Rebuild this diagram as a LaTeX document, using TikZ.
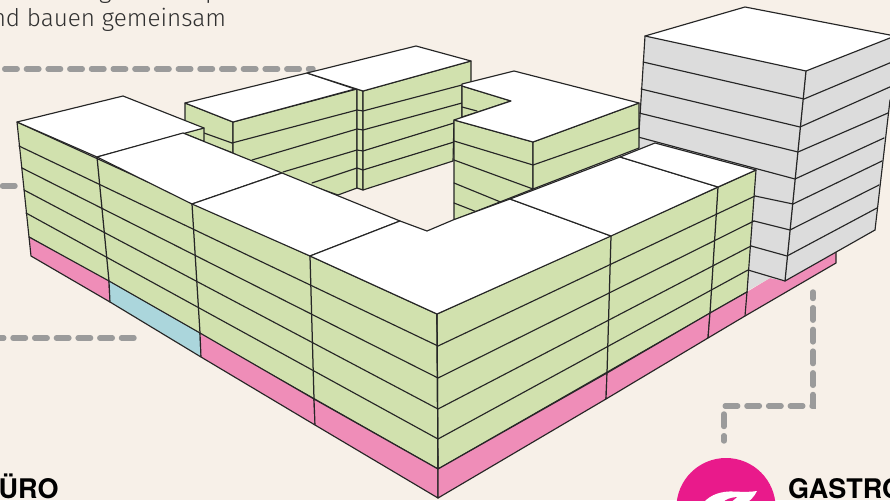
\documentclass[tikz,border=0pt]{standalone}
\usepackage{fontspec}
\setmainfont[UprightFont=* Light,BoldFont=* Bold]{Fira Sans}
\newfontfamily\headfont{TeX Gyre Heros}
\definecolor{bgc}{HTML}{F7F0E8}
\definecolor{greenc}{HTML}{D1E1AE}
\definecolor{pinkc}{HTML}{EF8DB8}
\definecolor{bluec}{HTML}{ABD6DC}
\definecolor{greyc}{HTML}{DCDCDC}
\definecolor{dashc}{HTML}{9B9B9B}
\definecolor{magc}{HTML}{E91A8B}
\definecolor{linec}{HTML}{262626}
\definecolor{textc}{HTML}{303030}
\tikzset{
  x=1pt,y=-1pt,
  edge/.style={draw=linec,line width=1.15pt,line join=round,line cap=round},
  vedge/.style={edge,line width=1.25pt},
  wall/.style={edge,fill=greenc},
  base/.style={edge,fill=pinkc},
  office/.style={edge,fill=bluec},
  tower/.style={edge,fill=greyc},
  roof/.style={edge,fill=white},
  leader/.style={draw=dashc,line width=5.4pt,line cap=round,line join=miter,dash pattern=on 12.5pt off 9.2pt},
  bodytext/.style={font=\fontsize{24.3}{26}\selectfont,text=textc,inner sep=0pt,anchor=base west},
  headtext/.style={font=\headfont\bfseries\fontsize{27}{29}\selectfont,text=black,inner sep=0pt,anchor=base west}
}
\begin{document}
\begin{tikzpicture}
\useasboundingbox (0,0) rectangle (890,500);
\clip (0,0) rectangle (890,500);
\fill[bgc] (0,0) rectangle (890,500);
% texts
\node[bodytext] (linea) at (-22.5,27) {und bauen gemeinsam};
\node[bodytext] (glyphg) at (99,-1.5) {g};
\node[bodytext] (glyphp) at (205,-1.5) {p};
\node[headtext] (lab1) at (-21,498) {BÜRO};
\node[headtext] (lab2) at (788,498) {GASTRO};
% leaders
\coordinate (d1a) at (0,69); \coordinate (d1b) at (313,69);
\coordinate (d2a) at (0,186); \coordinate (d2b) at (15,186);
\coordinate (d3a) at (0,338); \coordinate (d3b) at (134,338);
\coordinate (d4a) at (813,292); \coordinate (d4b) at (813,406);
\coordinate (d4c) at (724,406); \coordinate (d4d) at (724,441);
\draw[leader,dash phase=8] (d1b) -- (d1a);
\draw[leader] (d2b) -- (d2a);
\draw[leader] (d3b) -- (d3a);
\draw[leader,dash phase=6] (d4a) -- (d4b) -- (d4c) -- (d4d);
% icon
\fill[magc] (726,507.6) circle (49.6);
\fill[white] (703,503) .. controls (711,494) and (722,491) .. (734,491.5) .. controls (743,492) and (751,492) .. (757,491) .. controls (754,497) and (750,501) .. (745,504) -- cycle;
\fill[magc] (722,503) .. controls (726,499) and (731,497.5) .. (737,497) .. controls (734,500) and (731,502) .. (728,504) -- cycle;
% base behind tower
\fill[pinkc] (747,292) -- (770,278) -- (785,281) -- (836,252) -- (836,263) -- (745,316) -- cycle;
\draw[edge] (836,252) -- (836,263) -- (745,316);
% tower
\fill[greyc] (645,36) -- (806,71) -- (785,281) -- (770,278) -- (747,291) -- (638,148) -- cycle;
\fill[greyc] (806,71) -- (895,33) -- (890,100) -- (875,230) -- (785,281) -- cycle;
\draw[edge] (875,230) -- (890,100);
\draw[edge] (645,36) -- (638,148);
\draw[vedge] (806,71) -- (785,281);
\draw[edge] (643,62) -- (804,99) -- (892,62);
\draw[edge] (641,89) -- (800,127) -- (892,86);
\draw[edge] (639,113) -- (798,152) -- (888,113);
\draw[edge] (638,137) -- (795,179) -- (884,138);
\draw[edge] (755,196) -- (793,204) -- (882,161);
\draw[edge] (754,221) -- (790,230) -- (879,185);
\draw[edge] (751,246) -- (787,256) -- (877,208);
\draw[edge] (748,270) -- (785,281) -- (875,230);
\draw[edge] (748,270) -- (747,292);
\draw[roof] (645,36) -- (745,7) -- (895,36) -- (806,71) -- cycle;
% back-left wing
\draw[wall] (185,103) -- (233,122) -- (233,153) -- (204,142) -- (185,135) -- cycle;
\draw[edge] (204,133) -- (232,143);
\draw[wall] (233,122) -- (357,89) -- (357,188) -- (338,195) -- (252,165) -- (233,153) -- cycle;
\draw[edge] (232,143) -- (357,110);
\draw[edge] (252,160) -- (357,129);
\draw[edge] (283,172) -- (357,150);
\draw[edge] (312,183) -- (357,168);
\draw[roof] (185,103) -- (307,73) -- (355,89) -- (233,122) -- cycle;
% center wing
\draw[wall] (357,89) -- (363,91) -- (363,190) -- (357,188) -- cycle;
\draw[edge] (357,110) -- (363,111);
\draw[edge] (357,129) -- (363,130);
\draw[edge] (357,150) -- (363,151);
\draw[edge] (357,168) -- (363,170);
\draw[wall] (363,91) -- (471,61) -- (471,83) -- (462,86) -- (462,118) -- (454,121) -- (453,161) -- (363,190) -- cycle;
\draw[edge] (363,111) -- (462,85);
\draw[edge] (363,130) -- (462,103);
\draw[edge] (363,151) -- (454,123);
\draw[edge] (363,170) -- (454,142);
\draw[roof] (307,73) -- (416,46) -- (471,61) -- (363,91) -- cycle;
% right block
\draw[wall] (462,86) -- (511,101) -- (478,112) -- (462,117) -- cycle;
\draw[edge] (462,107) -- (477,111);
\draw[wall] (454,120) -- (533,142) -- (533,189) -- (454,220) -- cycle;
\draw[wall] (533,142) -- (639,103) -- (639,148) -- (533,189) -- cycle;
\draw[edge] (454,141) -- (533,165) -- (639,128);
\draw[edge] (454,160) -- (533,189);
\draw[edge] (454,183) -- (503,203);
\draw[edge] (454,203) -- (477,212);
\draw[roof] (462,84) -- (514,71) -- (639,103) -- (533,142) -- (454,120) -- (511,101) -- (462,86) -- cycle;
% stub end of first block
\draw[wall] (183,133) -- (204,128) -- (204,141.5) -- cycle;
% main walls
\draw[wall] (17,122) -- (437,314) -- (438,469) -- (29,237) -- cycle;
\draw[wall] (437,314) -- (756,170) -- (747,292) -- (438,469) -- cycle;
% floors
\draw[edge] (19,146) -- (438,346) -- (755,196);
\draw[edge] (22,168) -- (438,378) -- (754,221);
\draw[edge] (24,190) -- (438,409) -- (751,246);
\draw[edge] (26,213) -- (438,439) -- (748,270);
% ground storey
\draw[base] (29,237) -- (109,281) -- (110,302) -- (31,256) -- cycle;
\draw[office] (109,281) -- (200,333) -- (201,357) -- (110,302) -- cycle;
\draw[base] (200,333) -- (314,399) -- (315,425) -- (201,357) -- cycle;
\draw[base] (314,399) -- (438,469) -- (438,498) -- (315,425) -- cycle;
\draw[base] (438,469) -- (607,373) -- (606,399) -- (438,498) -- cycle;
\draw[base] (607,373) -- (710,313) -- (708,338) -- (606,399) -- cycle;
\draw[base] (710,313) -- (747,292) -- (745,316) -- (708,338) -- cycle;
% vertical joints
\draw[vedge] (97,157) -- (109,281);
\draw[vedge] (192,204) -- (200,333);
\draw[vedge] (310,256) -- (314,399);
\draw[vedge] (437,314) -- (438,469);
\draw[vedge] (611,236) -- (607,373);
\draw[vedge] (718,187) -- (710,313);
% roofs
\draw[roof] (17,122) -- (123,96) -- (204,128) -- (97,157) -- cycle;
\draw[roof] (97,157) -- (183,133) -- (282,173) -- (192,204) -- cycle;
\draw[roof] (192,204) -- (282,173) -- (400,221) -- (310,256) -- cycle;
\draw[roof] (310,256) -- (400,221) -- (427,231) -- (453,220) -- (510,199) -- (611,236) -- (437,314) -- cycle;
\draw[roof] (510,199) -- (620,157) -- (718,187) -- (611,236) -- cycle;
\draw[roof] (620,157) -- (655,143) -- (756,170) -- (718,187) -- cycle;
\end{tikzpicture}
\end{document}
